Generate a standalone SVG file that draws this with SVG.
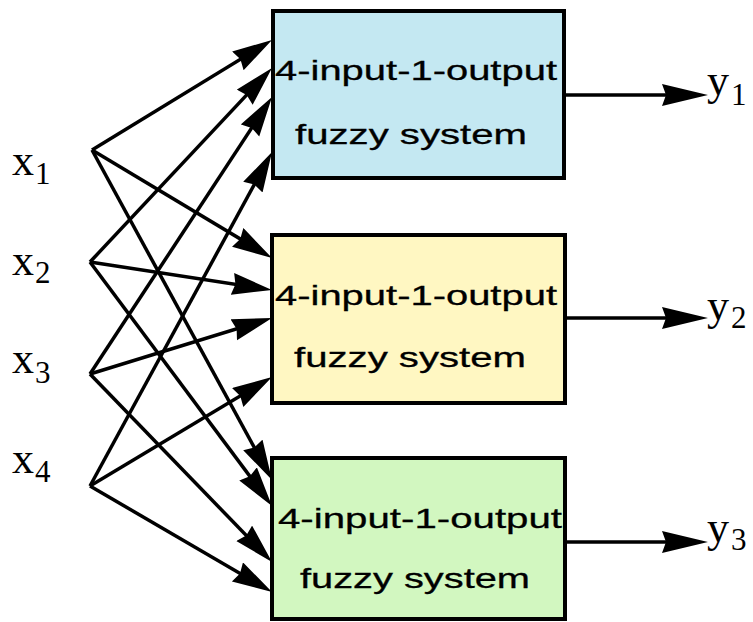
<svg xmlns="http://www.w3.org/2000/svg" width="753" height="622" viewBox="0 0 753 622">
  <style>
    .box { stroke: #000; stroke-width: 4; }
    .lbl { font-family: "Liberation Sans", Arial, sans-serif; font-size: 28px; fill: #000; stroke: #000; stroke-width: 0.3; }
    .var { font-family: "Liberation Serif", "Times New Roman", serif; font-size: 44px; fill: #000; }
    .sub { font-size: 31px; }
    .wire { stroke: #000; stroke-width: 3.5; fill: none; }
    .in { marker-end: url(#headIn); }
    .out { marker-end: url(#headOut); }
  </style>
  <defs>
    <marker id="headIn" markerUnits="userSpaceOnUse" markerWidth="42" markerHeight="24" refX="30" refY="11" orient="auto">
      <path d="M0,0 L40,11 L0,22 L3,11 Z" fill="#000"/>
    </marker>
    <marker id="headOut" markerUnits="userSpaceOnUse" markerWidth="48" markerHeight="24" refX="36" refY="11" orient="auto">
      <path d="M0,0 L46,11 L0,22 L4,11 Z" fill="#000"/>
    </marker>
  </defs>

  <rect width="753" height="622" fill="#fff"/>

  <!-- input variables -->
  <g id="x1"><text class="var" x="12" y="175">x<tspan class="sub" x="35" y="184">1</tspan></text></g>
  <g id="x2"><text class="var" x="12" y="275">x<tspan class="sub" x="35" y="283">2</tspan></text></g>
  <g id="x3"><text class="var" x="12" y="373">x<tspan class="sub" x="35" y="383">3</tspan></text></g>
  <g id="x4"><text class="var" x="12" y="473">x<tspan class="sub" x="35" y="482">4</tspan></text></g>

  <!-- fuzzy system blocks -->
  <g id="fs1">
    <rect class="box" x="273" y="11" width="291" height="167" fill="#c4e8f2"/>
    <text class="lbl" x="275" y="80" textLength="282" lengthAdjust="spacingAndGlyphs">4-input-1-output</text>
    <text class="lbl" x="295" y="144" textLength="232" lengthAdjust="spacingAndGlyphs">fuzzy system</text>
  </g>
  <g id="fs2">
    <rect class="box" x="272" y="235" width="293" height="168" fill="#fff7c2"/>
    <text class="lbl" x="275" y="305" textLength="282" lengthAdjust="spacingAndGlyphs">4-input-1-output</text>
    <text class="lbl" x="294" y="367" textLength="232" lengthAdjust="spacingAndGlyphs">fuzzy system</text>
  </g>
  <g id="fs3">
    <rect class="box" x="272" y="458" width="293" height="161" fill="#d2f7c0"/>
    <text class="lbl" x="278" y="528" textLength="284" lengthAdjust="spacingAndGlyphs">4-input-1-output</text>
    <text class="lbl" x="300" y="588" textLength="230" lengthAdjust="spacingAndGlyphs">fuzzy system</text>
  </g>

  <!-- outputs -->
  <g id="y1"><text class="var" x="707" y="95">y<tspan class="sub" x="731" y="105">1</tspan></text></g>
  <g id="y2"><text class="var" x="707" y="320">y<tspan class="sub" x="731" y="328">2</tspan></text></g>
  <g id="y3"><text class="var" x="707" y="542">y<tspan class="sub" x="731" y="550">3</tspan></text></g>

  <!-- connectors -->
  <g id="connectors">
    <!-- from x1 -->
    <line class="wire in" x1="92" y1="150" x2="263.47" y2="45.21"/>
    <line class="wire in" x1="92" y1="150" x2="263.42" y2="252.85"/>
    <line class="wire in" x1="92" y1="150" x2="267.21" y2="471.22"/>
    <!-- from x2 -->
    <line class="wire in" x1="90" y1="262" x2="265.16" y2="75.29"/>
    <line class="wire in" x1="90" y1="262" x2="262.12" y2="288.48"/>
    <line class="wire in" x1="90" y1="262" x2="266.02" y2="497.98"/>
    <!-- from x3 -->
    <line class="wire in" x1="90" y1="374" x2="266.51" y2="105.36"/>
    <line class="wire in" x1="90" y1="374" x2="262.44" y2="320.94"/>
    <line class="wire in" x1="90" y1="374" x2="265.05" y2="554.82"/>
    <!-- from x4 -->
    <line class="wire in" x1="90" y1="486" x2="267.22" y2="160.78"/>
    <line class="wire in" x1="90" y1="486" x2="263.42" y2="382.14"/>
    <line class="wire in" x1="90" y1="486" x2="263.36" y2="586.97"/>
    <!-- outputs -->
    <line class="wire out" x1="565" y1="95" x2="698" y2="95"/>
    <line class="wire out" x1="565" y1="318" x2="698" y2="318"/>
    <line class="wire out" x1="565" y1="542" x2="698" y2="542"/>
  </g>
</svg>
